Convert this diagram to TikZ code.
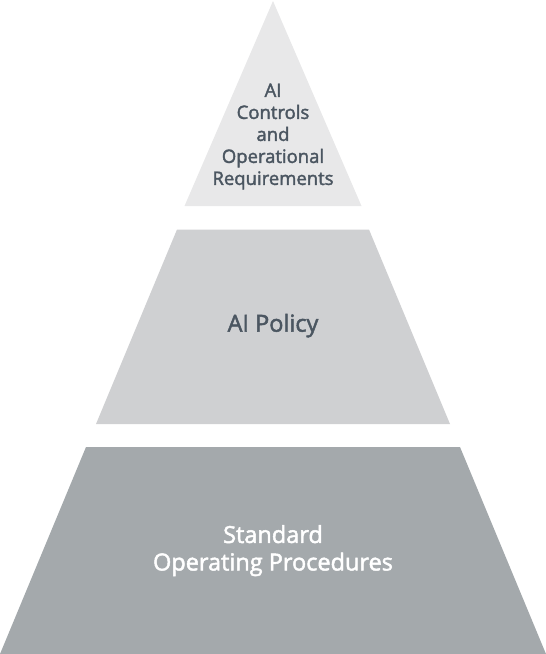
\documentclass[tikz,border=0pt]{standalone}
\usepackage{fontspec}
\setmainfont{Open Sans}[FakeBold=2]
\definecolor{tierA}{HTML}{E8E8E9}
\definecolor{tierB}{HTML}{CFD0D2}
\definecolor{tierC}{HTML}{A4A9AC}
\definecolor{inkdark}{HTML}{4B5661}
\begin{document}
\begin{tikzpicture}[x=1pt,y=-1pt,
  tier/.style={draw=none},
  smalltext/.style={align=center,text=inkdark,inner sep=0pt,font=\fontsize{18.5}{22}\selectfont},
  bigtext/.style={align=center,inner sep=0pt,font=\fontsize{23.5}{27.5}\selectfont}]
\useasboundingbox (0,0) rectangle (546,654);
\fill[tierA] (273,1) -- (361.5,206) -- (184.5,206) -- cycle;
\fill[tierB] (177,229.5) -- (369,229.5) -- (450,424) -- (96,424) -- cycle;
\fill[tierC] (86,447) -- (460,447) -- (546,654) -- (0,654) -- cycle;
\node[smalltext] (top) at (273,136.5) {AI\\Controls\\and\\Operational\\Requirements};
\node[bigtext,text=inkdark,anchor=base] (mid) at (273,331.7) {AI Policy};
\node[bigtext,text=white] (bot) at (273,550.6) {Standard\\Operating Procedures};
\end{tikzpicture}
\end{document}
